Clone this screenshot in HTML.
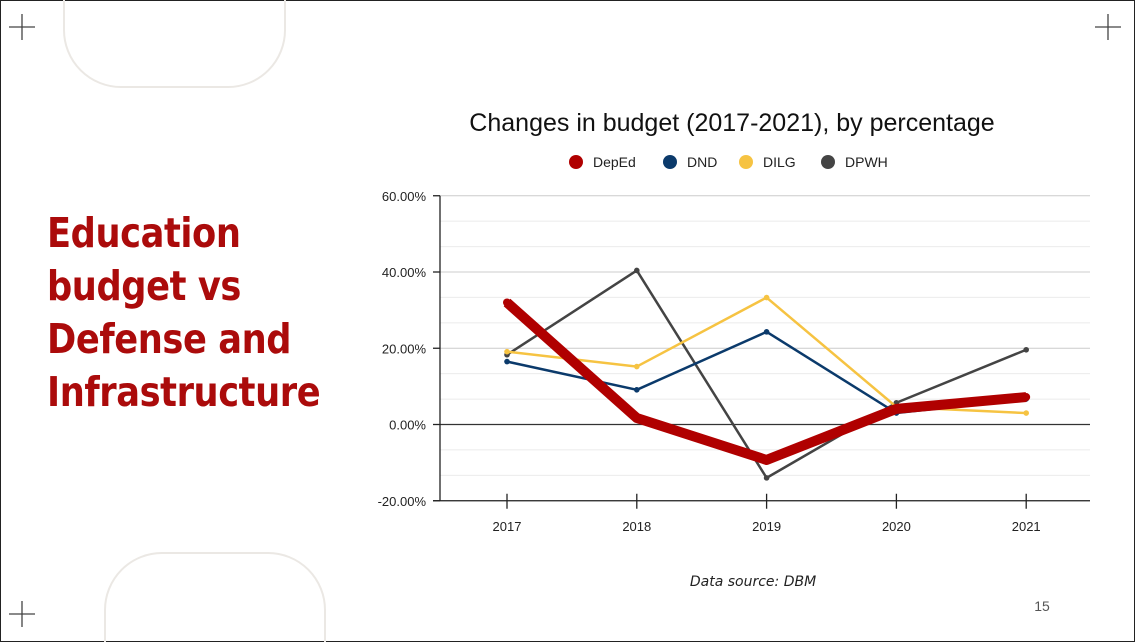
<!DOCTYPE html>
<html><head><meta charset="utf-8"><style>
html,body{margin:0;padding:0;background:#fff}
body{width:1135px;height:642px;position:relative;overflow:hidden;font-family:"Liberation Sans",sans-serif}
.frame{position:absolute;left:0;top:0;width:1133px;height:640px;border:1px solid #222}
.heading{position:absolute;left:47px;top:207px;color:#ab0b0b;font-size:41px;font-weight:bold;line-height:53px;font-family:"DejaVu Sans","Liberation Sans",sans-serif;letter-spacing:-0.5px;transform:scaleX(0.86);transform-origin:0 0;white-space:nowrap}
</style></head><body>
<div class="frame"></div>
<svg width="1135" height="642" style="position:absolute;left:0;top:0">
<path d="M64 0 V30 A57 57 0 0 0 121 87 H228 A57 57 0 0 0 285 30 V0" fill="none" stroke="#ebe8e4" stroke-width="2"/>
<path d="M105 642 V610 A57 57 0 0 1 162 553 H268 A57 57 0 0 1 325 610 V642" fill="none" stroke="#ebe8e4" stroke-width="2"/>
<g stroke="#444" stroke-width="1.3">
<path d="M9 27H35M22 14V40"/><path d="M1095 27H1121M1108 14V40"/><path d="M9 614H35M22 601V627"/>
</g>
</svg>
<div class="heading">Education<br>budget vs<br>Defense and<br>Infrastructure</div>
<svg id="chart" width="1135" height="642" style="position:absolute;left:0;top:0">
<text x="732" y="131" text-anchor="middle" font-size="25" fill="#111">Changes in budget (2017-2021), by percentage</text>
<text x="753" y="586" text-anchor="middle" font-size="14" font-style="italic" fill="#222" font-family="DejaVu Sans, sans-serif">Data source: DBM</text>
<text x="1042" y="611" text-anchor="middle" font-size="14" fill="#555">15</text>
</svg>
<script>
const years=["2017","2018","2019","2020","2021"];
const seriesNames=["DepEd","DND","DILG","DPWH"];
const deped=[32,1.7,-9.3,4.1,7.2];
const dnd=[16.5,9.1,24.3,3,6.7];
const dilg=[19.1,15.2,33.3,4.6,3];
const dpwh=[18.3,40.4,-14,5.7,19.6];
const yTicks=[60,40,20,0,-20];
const yTickLabels=["60.00%","40.00%","20.00%","0.00%","-20.00%"];
const NS="http://www.w3.org/2000/svg";
const svg=document.getElementById('chart');
const y=v=>424.5-(v)*3.8125;
const x=i=>507+i*129.8;
function mk(t,a){const e=document.createElementNS(NS,t);for(const k in a)e.setAttribute(k,a[k]);svg.appendChild(e);return e;}
for(let v=-20;v<=60;v+=20/3){const yy=y(v);
 const g=mk('line',{x1:440,x2:1090,y1:yy,y2:yy,stroke:Math.abs(Math.round(v)-v)<0.01&&Math.round(v)%20==0?'#ccc':'#ebebeb','stroke-width':1});
 
 }
yTicks.forEach((v,i)=>{
 const t=mk('text',{x:426,y:y(v)+5,'text-anchor':'end','font-size':13,fill:'#222'});t.textContent=yTickLabels[i];
 
 
 const tk=mk('line',{x1:433,x2:440,y1:y(v),y2:y(v),stroke:'#222','stroke-width':1.3});
 
 
});
const zl=mk('line',{x1:440,x2:1090,y1:y(0),y2:y(0),stroke:'#333','stroke-width':1.3});


const ya=mk('line',{x1:440,x2:440,y1:y(60),y2:y(-20),stroke:'#222','stroke-width':1.3});


const xa=mk('line',{x1:433,x2:1090,y1:y(-20),y2:y(-20),stroke:'#222','stroke-width':1.3});


years.forEach((yr,i)=>{
 const tk=mk('line',{x1:x(i),x2:x(i),y1:y(-20)-7,y2:y(-20)+8,stroke:'#222','stroke-width':1.3});
 
 
 const t=mk('text',{x:x(i),y:531,'text-anchor':'middle','font-size':13,fill:'#222'});t.textContent=yr;
 
 
});
const cols=["#b00000","#0b3a6b","#f6c342","#444444"];
const widths=[10,2.5,2.5,2.5];
const data=[deped,dnd,dilg,dpwh];
[3,2,1,0].forEach(s=>{
 const pts=data[s].map((v,i)=>x(i)+','+y(v)).join(' ');
 const p=mk('polyline',{points:pts,fill:'none',stroke:cols[s],'stroke-width':widths[s],'stroke-linejoin':'round'});
 
 
 data[s].forEach((v,i)=>{const c=mk('circle',{cx:x(i),cy:y(v),r:s==0?4:2.8,fill:cols[s]});
  
  });
});
const lx=[576,670,746,828];
seriesNames.forEach((n,i)=>{
 const c=mk('circle',{cx:lx[i],cy:162,r:7,fill:cols[i]});
 
 
 const t=mk('text',{x:lx[i]+17,y:167,'font-size':14,fill:'#222'});t.textContent=n;
 
 
});
</script>
</body></html>
